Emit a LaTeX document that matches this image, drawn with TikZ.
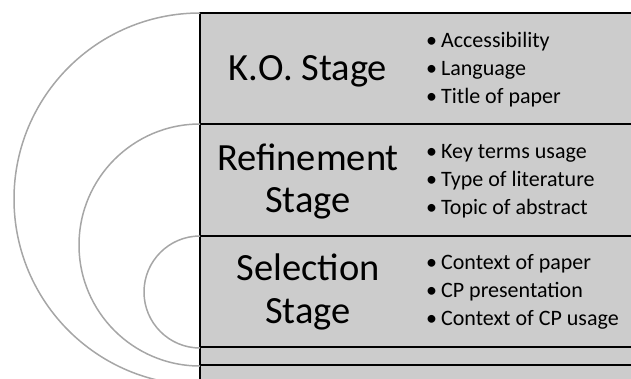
\documentclass[tikz,border=0pt]{standalone}
\usepackage{fontspec}
\setmainfont{Carlito}
\definecolor{boxfill}{HTML}{CCCCCC}
\definecolor{arcgray}{HTML}{A6A6A6}
\begin{document}
\begin{tikzpicture}[x=1pt,y=-1pt,
  stagebox/.style={draw=black,line width=1.6pt,fill=boxfill},
  ring/.style={draw=arcgray,line width=1.5pt},
  titletext/.style={anchor=base,inner sep=0pt,font=\fontsize{38.5}{43}\selectfont},
  itemtext/.style={anchor=base west,inner sep=0pt,font=\fontsize{22}{28}\selectfont}]
\useasboundingbox (0,0) rectangle (631,378);
\clip (0,0) rectangle (631,378);
% boxes
\draw[stagebox] (200,13) rectangle (660,124);
\draw[stagebox] (200,124) rectangle (660,236);
\draw[stagebox] (200,236) rectangle (660,347);
\draw[stagebox] (200,347) rectangle (660,365);
\draw[stagebox] (200,365) rectangle (660,400);
% arcs
\draw[ring] (200,13) arc[start angle=270,end angle=90,radius=186];
\draw[ring] (200,124) arc[start angle=270,end angle=90,radius=121];
\draw[ring] (200,236) arc[start angle=270,end angle=90,radius=56];
% titles
\node[titletext] (ko) at (308,80) {K.O. Stage};
\node[titletext] (ref1) at (308,170) {Refinement};
\node[titletext] (ref2) at (308,212) {Stage};
\node[titletext] (sel1) at (308,280) {Selection};
\node[titletext] (sel2) at (308,323) {Stage};
% bullets
\node[itemtext] (k1) at (426,47) {•\hspace{4pt}Accessibility};
\node[itemtext] (k2) at (426,75) {•\hspace{4pt}Language};
\node[itemtext] (k3) at (426,103) {•\hspace{4pt}Title of paper};
\node[itemtext] (r1) at (426,158) {•\hspace{4pt}Key terms usage};
\node[itemtext] (r2) at (426,186) {•\hspace{4pt}Type of literature};
\node[itemtext] (r3) at (426,214) {•\hspace{4pt}Topic of abstract};
\node[itemtext] (s1) at (426,269) {•\hspace{4pt}Context of paper};
\node[itemtext] (s2) at (426,297) {•\hspace{4pt}CP presentation};
\node[itemtext] (s3) at (426,325) {•\hspace{4pt}Context of CP usage};
\end{tikzpicture}
\end{document}
